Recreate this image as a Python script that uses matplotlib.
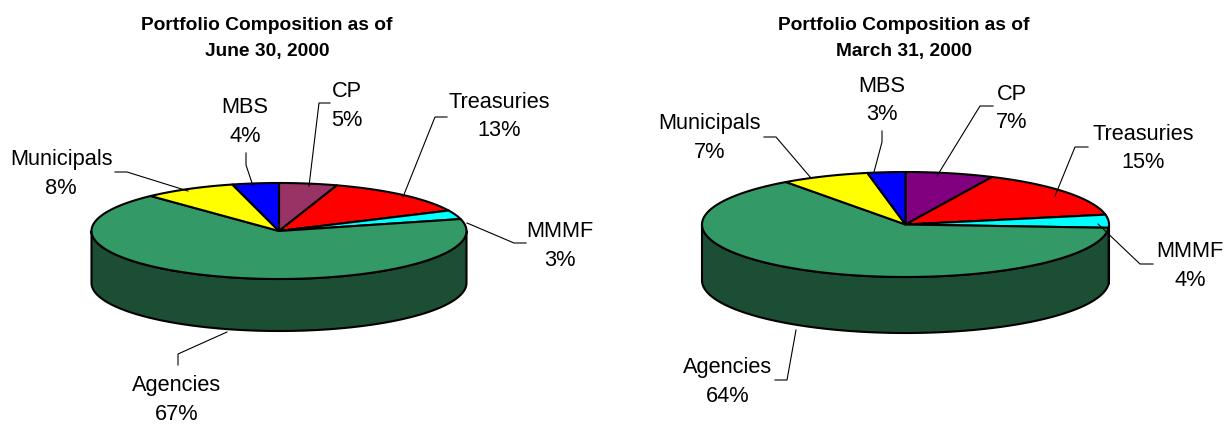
import numpy as np
import matplotlib
matplotlib.use('Agg')
import matplotlib.pyplot as plt
from matplotlib.patches import Polygon

plt.rcParams['font.family'] = ['Liberation Sans', 'DejaVu Sans']

categories = ['CP', 'Treasuries', 'MMMF', 'Agencies', 'Municipals', 'MBS']
june_values = [5, 13, 3, 67, 8, 4]
march_values = [7, 15, 4, 64, 7, 3]
june_title = 'Portfolio Composition as of\nJune 30, 2000'
march_title = 'Portfolio Composition as of\nMarch 31, 2000'

june_colors = ['#993366', '#ff0000', '#00ffff', '#339966', '#ffff00', '#0000ff']
march_colors = ['#800080', '#ff0000', '#00ffff', '#339966', '#ffff00', '#0000ff']
side_color = '#1c4e33'

fig = plt.figure(figsize=(12.27, 4.24), dpi=100)
ax = fig.add_axes([0, 0, 1, 1])
ax.set_xlim(0, 1227)
ax.set_ylim(424, 0)
ax.axis('off')


def darken(c):
    r = matplotlib.colors.to_rgb(c)
    return tuple(v * 0.58 for v in r)


def draw_pie(values, colors, cx, cy, rx, ry, depth):
    edges = np.cumsum([0] + list(values)) / sum(values) * 2 * np.pi
    # side wall first, only the front part shows
    for i in range(len(values)):
        a = max(edges[i], np.pi / 2)
        b = min(edges[i + 1], 3 * np.pi / 2)
        if b <= a:
            continue
        t = np.linspace(a, b, 200)
        x = cx + rx * np.sin(t)
        y = cy - ry * np.cos(t)
        pts = np.column_stack([np.r_[x, x[::-1]], np.r_[y, y[::-1] + depth]])
        col = side_color if values[i] > 50 else darken(colors[i])
        ax.add_patch(Polygon(pts, fc=col, ec='black', lw=1.5, joinstyle='round', zorder=2))
    for i in range(len(values)):
        t = np.linspace(edges[i], edges[i + 1], 200)
        x = cx + rx * np.sin(t)
        y = cy - ry * np.cos(t)
        pts = np.column_stack([np.r_[cx, x], np.r_[cy, y]])
        ax.add_patch(Polygon(pts, fc=colors[i], ec='black', lw=1.5, joinstyle='round', zorder=3))


def draw_labels(values, label_pos, leaders):
    for name, v, (x, y), line in zip(categories, values, label_pos, leaders):
        ax.text(x, y + 1.5, name, ha='center', va='center', fontsize=15.7, color='black', zorder=5)
        ax.text(x, y + 30, '%d%%' % v, ha='center', va='center', fontsize=15.7, color='black', zorder=5)
        ax.plot([p[0] for p in line], [p[1] for p in line], color='black', lw=0.8, zorder=4)


draw_pie(june_values, june_colors, 279, 231, 187.5, 48, 52)
draw_pie(march_values, march_colors, 905.5, 224.5, 203.5, 52.5, 56)

june_label_pos = [(347, 90), (499, 101), (560, 230), (177, 384), (61, 158), (245, 106)]
june_leaders = [
    [(309, 186), (319, 103), (330, 103)],
    [(403, 197), (435, 117), (447, 117)],
    [(467, 223), (514, 243), (526, 243)],
    [(227, 332), (178, 354), (178, 365)],
    [(188, 191), (127, 172), (115, 172)],
    [(253, 186), (246, 165), (246, 153)],
]
march_label_pos = [(1012, 93), (1143, 133), (1190, 250), (728, 366), (710, 122), (882, 85)]
march_leaders = [
    [(937, 176), (980, 106), (993, 106)],
    [(1055, 196), (1075, 147), (1088, 147)],
    [(1098, 224), (1140, 264), (1153, 264)],
    [(796, 330), (787, 380), (775, 380)],
    [(811, 178), (776, 137), (764, 137)],
    [(874, 172), (882, 142), (882, 131)],
]
draw_labels(june_values, june_label_pos, june_leaders)
draw_labels(march_values, march_label_pos, march_leaders)

ax.text(267, 38.5, june_title, ha='center', va='center', fontsize=13.8, fontweight='bold', linespacing=1.75)
ax.text(904, 38.5, march_title, ha='center', va='center', fontsize=13.8, fontweight='bold', linespacing=1.75)

plt.savefig('out.png', dpi=100)
